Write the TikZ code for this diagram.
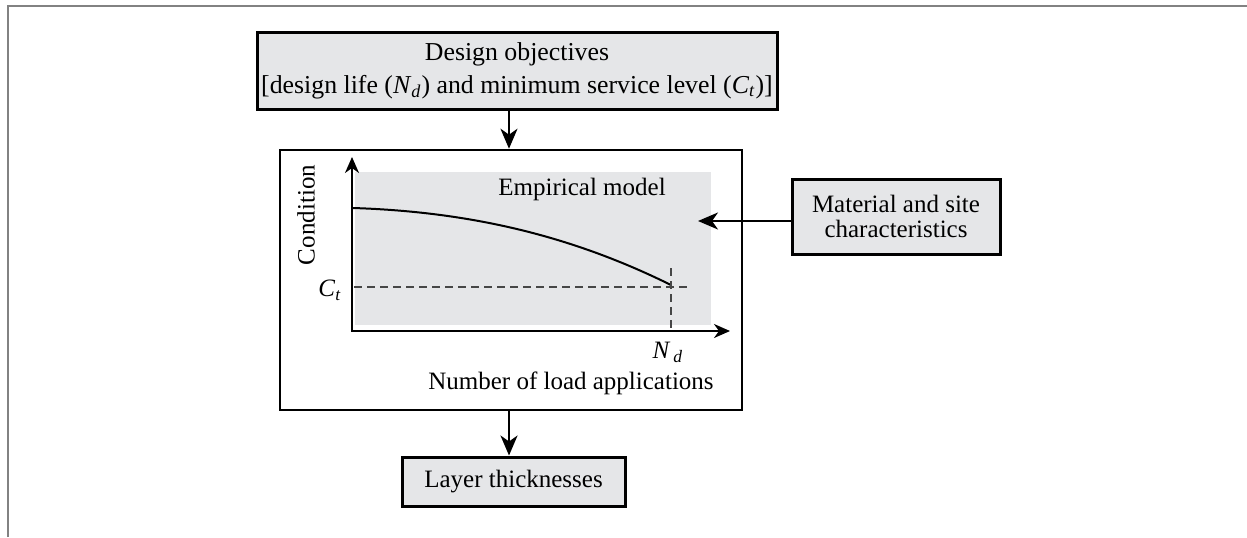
\documentclass[tikz,border=0pt]{standalone}
\usepackage{fontspec}
\setmainfont{Liberation Serif}
\usetikzlibrary{arrows.meta,calc}
\definecolor{boxgray}{RGB}{229,230,232}
\definecolor{framegray}{RGB}{130,130,130}
\definecolor{dashgray}{RGB}{70,70,70}
\begin{document}
\begin{tikzpicture}[x=0.5pt,y=-0.5pt,
  font=\fontsize{12.5}{16}\selectfont,
  box/.style={draw, line width=1.5pt, fill=boxgray, inner sep=0pt, align=center},
  arr/.style={line width=1.2pt, -{Stealth[length=10pt,width=8.5pt,inset=3pt]}},
  axis/.style={line width=1pt, {Stealth[length=8pt,width=7pt,inset=2.5pt]}-{Stealth[length=8pt,width=7pt,inset=2.5pt]}},
  dashline/.style={dashgray, line width=0.8pt, dash pattern=on 4pt off 2.5pt},
  lbl/.style={inner sep=0pt}]
\useasboundingbox (0,0) rectangle (1247,537);
% page frame
\draw[framegray, line width=1pt] (8,537) -- (8,6) -- (1247,6);
% boxes
\node[box, minimum width=260pt, minimum height=38.5pt, font=\fontsize{12.9}{16.5}\selectfont] (obj) at (517,70.5)
  {Design objectives\\ {[}design life (\textit{N}\textsubscript{\textit{d}}) and minimum service level (\textit{C}\textsubscript{\textit{t}}){]}};
\node[draw, line width=1.3pt, minimum width=231pt, minimum height=130pt, inner sep=0pt] (main) at (511,280) {};
\node[box, minimum width=104pt, minimum height=37.5pt, font=\fontsize{12.5}{12.5}\selectfont] (mat) at (896,216.5) {Material and site\\characteristics};
\node[box, minimum width=111.5pt, minimum height=24.5pt] (lay) at (513.5,481.5) {Layer thicknesses};
% graph
\node[fill=boxgray, minimum width=178pt, minimum height=76.5pt, inner sep=0pt] (model) at (533,248.5) {};
\coordinate (O) at (352,331);
\coordinate (ytip) at (352,157);
\coordinate (xtip) at (730,331);
\draw[axis] (ytip) -- (O) -- (xtip);
\coordinate (c0) at (353,208);
\coordinate (c1) at (671,285);
\draw[line width=1pt] (c0) .. controls (480,212) and (580,240) .. (c1);
\coordinate (ct0) at (354,287);
\coordinate (ct1) at (688,287);
\draw[dashline] (ct0) -- (ct1);
\coordinate (nd0) at (671,268);
\draw[dashline] (nd0) -- (nd0 |- O);
\node[lbl] (emp) at (582,189) {Empirical model};
\node[lbl, rotate=90] (cond) at (306,215) {Condition};
\node[lbl, anchor=east] (ctl) at (342,290) {\textit{C}\textsubscript{\textit{t}}};
\node[lbl] (ndl) at (668,352) {\textit{N}\textsubscript{\,\textit{d}}};
\node[lbl] (nla) at (571,383) {Number of load applications};
% connectors
\coordinate (ax) at (509,0);
\coordinate (tip) at (698,221);
\draw[arr] (obj.south -| ax) -- (main.north -| ax);
\draw[arr] (main.south -| ax) -- (lay.north -| ax);
\draw[arr] (mat.west |- tip) -- (tip);
\end{tikzpicture}
\end{document}
